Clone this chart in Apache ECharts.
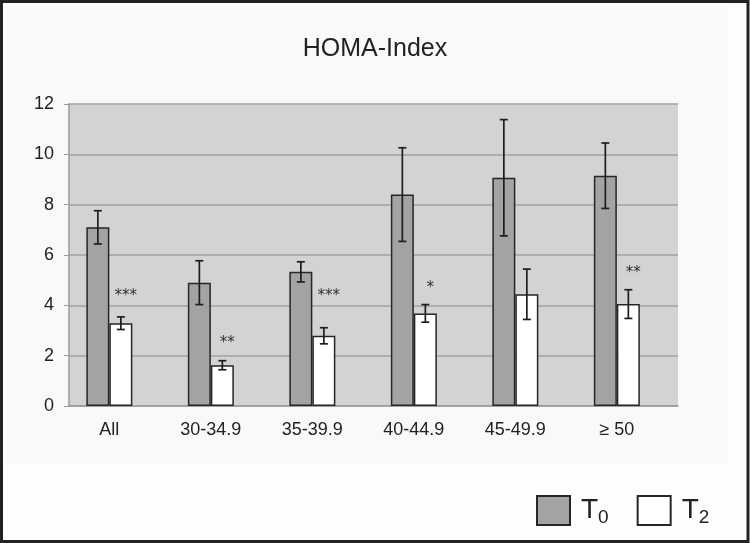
<!DOCTYPE html>
<html>
<head>
<meta charset="utf-8">
<script src="https://cdn.jsdelivr.net/npm/echarts@6/dist/echarts.min.js"></script>
<style>
html,body{margin:0;padding:0;background:#fdfdfd;}
#chart{width:750px;height:543px;}
</style>
</head>
<body>
<div id="chart"></div>
<script>
// ---- data ----
const categories = ['All', '30-34.9', '35-39.9', '40-44.9', '45-49.9', '\u2265 50'];
const t0Values = [7.1, 4.9, 5.33, 8.4, 9.07, 9.15];
const t0Err    = [0.66, 0.87, 0.40, 1.86, 2.31, 1.30];
const t2Values = [3.29, 1.62, 2.79, 3.68, 4.44, 4.05];
const t2Err    = [0.25, 0.18, 0.32, 0.35, 1.00, 0.57];
const sigLabels = ['***', '**', '***', '*', '', '**'];
const sigLevel  = [4.5, 2.6, 4.5, 4.8, null, 5.4];
const yTicks = [0, 2, 4, 6, 8, 10, 12];

const FONT = 'Liberation Sans, Arial, sans-serif';
const BAR_W = 23;

function errData(vals, errs) {
  return vals.map((v, i) => [i, v - errs[i], v + errs[i]]);
}
function errRender(offset) {
  return function (params, api) {
    const x = api.coord([api.value(0), 0])[0] + offset;
    const yLo = api.coord([api.value(0), api.value(1)])[1];
    const yHi = api.coord([api.value(0), api.value(2)])[1];
    const cap = 4;
    const st = { stroke: '#1e1e1e', lineWidth: 1.7 };
    return {
      type: 'group',
      children: [
        { type: 'line', shape: { x1: x, y1: yLo, x2: x, y2: yHi }, style: st },
        { type: 'line', shape: { x1: x - cap, y1: yHi, x2: x + cap, y2: yHi }, style: st },
        { type: 'line', shape: { x1: x - cap, y1: yLo, x2: x + cap, y2: yLo }, style: st }
      ]
    };
  };
}

const yMin = yTicks[0], yMax = yTicks[yTicks.length - 1];

const chart = echarts.init(document.getElementById('chart'), null, { renderer: 'canvas' });
chart.setOption({
  animation: false,
  backgroundColor: '#fdfdfd',
  graphic: [
    { type: 'rect', z: -10, shape: { x: 7, y: 7, width: 721, height: 456 }, style: { fill: '#f9f9f9' } },
    { type: 'rect', z: 100, shape: { x: 1.5, y: 1.5, width: 746.5, height: 540 }, style: { fill: 'none', stroke: '#222', lineWidth: 3 } }
  ],
  title: {
    text: 'HOMA-Index',
    left: 'center',
    top: 32,
    textStyle: { fontFamily: FONT, fontSize: 25, fontWeight: 'normal', color: '#222' }
  },
  legend: {
    data: ['T0', 'T2'],
    left: 531,
    top: 490,
    icon: 'rect',
    itemWidth: 33,
    itemHeight: 29,
    itemGap: 28,
    formatter: function (name) { return 'T{s|' + name.slice(1) + '}'; },
    textStyle: {
      fontFamily: FONT, fontSize: 28, color: '#222', padding: [0, 0, 0, 6],
      rich: { s: { fontFamily: FONT, fontSize: 19, color: '#222', padding: [14, 0, 0, 0] } }
    }
  },
  grid: [
    { left: 69, right: 72, top: 104, bottom: 137, show: true, backgroundColor: '#d3d3d3', borderWidth: 0 },
    { left: 58.6, right: 82.4, top: 104, bottom: 137, show: false }
  ],
  xAxis: [
    {
      gridIndex: 0, type: 'category', data: categories,
      axisTick: { show: false },
      axisLabel: { show: false },
      axisLine: { lineStyle: { color: '#9a9a9a', width: 1.5 } }
    },
    {
      gridIndex: 1, type: 'category', data: categories,
      axisTick: { show: false },
      axisLine: { show: false },
      axisLabel: { fontFamily: FONT, fontSize: 18, color: '#222', margin: 15 }
    }
  ],
  yAxis: [
    {
      gridIndex: 0, type: 'value', min: yMin, max: yMax, interval: 2,
      axisLine: { show: true, lineStyle: { color: '#9a9a9a', width: 1.5 } },
      axisTick: { show: true, length: 5, lineStyle: { color: '#9a9a9a' } },
      splitLine: { lineStyle: { color: '#a2a2a2', width: 1.5 } },
      axisLabel: { fontFamily: FONT, fontSize: 18, color: '#222', margin: 15 }
    },
    {
      gridIndex: 1, type: 'value', min: yMin, max: yMax, interval: 2,
      show: false, splitLine: { show: false }
    }
  ],
  series: [
    {
      name: 'T0', type: 'bar', xAxisIndex: 1, yAxisIndex: 1, data: t0Values, barWidth: BAR_W, barGap: '0%',
      itemStyle: { color: '#a3a3a3', borderColor: '#262626', borderWidth: 1.5 }
    },
    {
      name: 'T2', type: 'bar', xAxisIndex: 1, yAxisIndex: 1, data: t2Values, barWidth: BAR_W,
      itemStyle: { color: '#ffffff', borderColor: '#262626', borderWidth: 1.5 }
    },
    {
      type: 'custom', z: 5, xAxisIndex: 1, yAxisIndex: 1, data: errData(t0Values, t0Err),
      renderItem: errRender(-BAR_W / 2), encode: { x: 0, y: [1, 2] }
    },
    {
      type: 'custom', z: 5, xAxisIndex: 1, yAxisIndex: 1, data: errData(t2Values, t2Err),
      renderItem: errRender(BAR_W / 2), encode: { x: 0, y: [1, 2] }
    },
    {
      type: 'custom', z: 5, xAxisIndex: 1, yAxisIndex: 1,
      data: sigLevel.map((v, i) => [i, v == null ? 0 : v]),
      encode: { x: 0, y: 1 },
      renderItem: function (params, api) {
        const i = params.dataIndex;
        if (!sigLabels[i]) return null;
        const p = api.coord([api.value(0), api.value(1)]);
        return {
          type: 'text',
          style: {
            x: p[0] + BAR_W / 2 + 5, y: p[1] + 3,
            text: sigLabels[i], align: 'center', verticalAlign: 'middle',
            fontFamily: 'DejaVu Sans, sans-serif', fontSize: 15, fill: '#333'
          }
        };
      }
    }
  ]
});
</script>
</body>
</html>
